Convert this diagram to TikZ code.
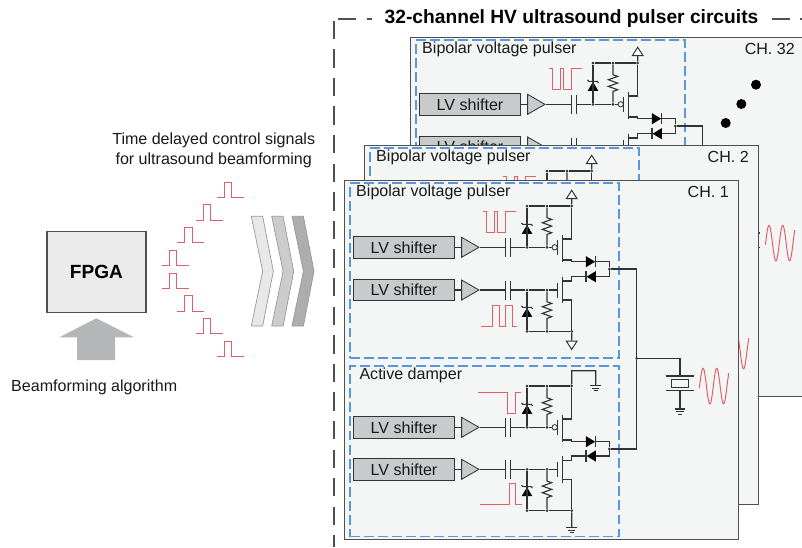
\documentclass[tikz,border=0pt]{standalone}
\usepackage{fontspec}
\setmainfont{Liberation Sans}
\usepackage{tikz}
\usetikzlibrary{
  positioning,
  calc,
  shapes.geometric,
  decorations.pathmorphing
}
\usepackage{xcolor}
\definecolor{wirec}{HTML}{333333}
\definecolor{framec}{HTML}{505050}
\definecolor{panel}{HTML}{F4F6F6}
\definecolor{blued}{HTML}{5A96DC}
\definecolor{redw}{HTML}{E0606A}
\definecolor{boxg}{HTML}{C9CACC}
\definecolor{arrowg}{HTML}{B5B6B8}

% high side stage, origin at the left end of the gate line
\newcommand{\topstage}[2]{
  \begin{scope}[shift={#2}]
    \node[shifter] (#1lv) at (50.7,0) {LV shifter};
    \node[buffer] (#1buf) at (126.7,0) {};
    \coordinate (#1capa) at (152.4,0);
    \coordinate (#1capb) at (157,0);
    \node[jdot] (#1gz) at (173.7,0) {};
    \node[jdot] (#1gr) at (193.7,0) {};
    \node[bubble] (#1bub) at (201.4,0) {};
    \node[jdot] (#1railz) at (173.7,-41.3) {};
    \node[jdot] (#1railr) at (193.7,-41.3) {};
    \node[jdot] (#1rail) at (218.4,-41.3) {};
    \coordinate (#1src) at (209,-8.3);
    \coordinate (#1drn) at (209,12.7);
    \node[zener] (#1zd) at (173.7,-23) {};
    \node[diode] (#1dio) at (242.4,14.4) {};
    \coordinate (#1join) at (256,14.4);
    \node[jdot] (#1out) at (256,21.7) {};
    \draw[wire] (#1lv) -- (#1buf);
    \draw[wire] (#1buf.apex) -- (#1capa);
    \draw[wire] (#1capa) ++(0,-9.5) -- ++(0,19);
    \draw[wire] (#1capb) ++(0,-9.5) -- ++(0,19);
    \draw[wire] (#1capb) -- (#1gz) -- (#1gr) -- (#1bub);
    \draw[wire] (#1railz) -- (#1railr) -- (#1rail);
    \draw[wire] (#1railz) -- (#1gz);
    \draw[resistor] (#1railr) -- (#1gr);
    \draw[wire] (#1zd.apex) ++(-5.5,-1.5) -- ++(1.2,1.5) -- ++(8.6,0) -- ++(1.2,1.5);
    \draw[wire] (#1bub.east) ++(0,-7.5) -- ++(0,15);
    \draw[wire] (209,-12.3) -- (209,15);
    \draw[wire] (#1rail) -- (218.4,-8.3) -- (#1src);
    \draw[wire] (#1drn) -- (218.4,12.7) -- (218.4,14.4) -- (#1dio.west);
    \draw[wire] (#1dio.apex) ++(0,-5.7) -- ++(0,11.4);
    \draw[wire] (#1dio.apex) -- (#1join) -- (#1out);
  \end{scope}
}
% low side stage, same origin
\newcommand{\lowstage}[2]{
  \begin{scope}[shift={#2}]
    \node[shifter] (#1lv) at (50.7,0) {LV shifter};
    \node[buffer] (#1buf) at (126.7,0) {};
    \coordinate (#1capa) at (152.4,0);
    \coordinate (#1capb) at (157,0);
    \node[jdot] (#1gz) at (173.7,0) {};
    \node[jdot] (#1gr) at (193.7,0) {};
    \coordinate (#1gbar) at (204.4,0);
    \node[jdot] (#1railz) at (173.7,41.3) {};
    \node[jdot] (#1railr) at (193.7,41.3) {};
    \node[jdot] (#1rail) at (218.4,41.3) {};
    \coordinate (#1src) at (209,10);
    \coordinate (#1drn) at (209,-9);
    \node[zener] (#1zd) at (173.7,17.3) {};
    \node[diode, shape border rotate=180] (#1dio) at (232.7,-13.3) {};
    \coordinate (#1join) at (256,-13.3);
    \draw[wire] (#1lv) -- (#1buf);
    \draw[wire] (#1buf.apex) -- (#1capa);
    \draw[wire] (#1capa) ++(0,-9.5) -- ++(0,19);
    \draw[wire] (#1capb) ++(0,-9.5) -- ++(0,19);
    \draw[wire] (#1capb) -- (#1gz) -- (#1gr) -- (#1gbar);
    \draw[wire] (#1railz) -- (#1railr) -- (#1rail);
    \draw[wire] (#1gz) -- (#1railz);
    \draw[resistor] (#1gr) -- (#1railr);
    \draw[wire] (#1zd.apex) ++(-5.5,-1.5) -- ++(1.2,1.5) -- ++(8.6,0) -- ++(1.2,1.5);
    \draw[wire] (#1gbar) ++(0,-7.5) -- ++(0,15);
    \draw[wire] (209,-13.3) -- (209,13.3);
    \draw[wire] (#1src) -- (218.4,10) -- (#1rail);
    \draw[wire] (#1drn) -- (218.4,-9) -- (218.4,-13.3) -- (#1dio.apex);
    \draw[wire] (#1dio.apex) ++(0,-5.7) -- ++(0,11.4);
    \draw[wire] (#1dio.east) -- (#1join) -- (256,-21);
  \end{scope}
}

\begin{document}
\begin{tikzpicture}[
  x=0.03cm, y=-0.03cm,
  txt/.style={font=\fontsize{13.7}{16}\selectfont, text=black!90, inner sep=0pt},
  wire/.style={draw=wirec, line width=0.95pt},
  chframe/.style={draw=framec, line width=1.2pt, fill=panel, minimum width=11.82cm,
                  minimum height=10.77cm, anchor=north west, inner sep=0pt},
  dashbox/.style={draw=blued, line width=1.1pt, dash pattern=on 8.5pt off 3.5pt,
                  minimum width=8.07cm, anchor=north west, inner sep=0pt},
  shifter/.style={draw=wirec, line width=1pt, fill=boxg, minimum width=3.04cm,
                  minimum height=0.65cm, inner sep=0pt, txt},
  buffer/.style={draw=wirec, line width=0.7pt, fill=boxg, shape=isosceles triangle,
                 isosceles triangle stretches, minimum width=0.6cm, minimum height=0.52cm,
                 inner sep=0pt, anchor=apex},
  diode/.style={fill=black, shape=isosceles triangle, isosceles triangle stretches,
                minimum width=0.34cm, minimum height=0.28cm, inner sep=0pt, anchor=apex},
  zener/.style={diode, shape border rotate=90, minimum width=0.32cm, minimum height=0.27cm},
  supply/.style={draw=wirec, line width=0.85pt, fill=white, shape=isosceles triangle,
                 isosceles triangle stretches, minimum width=0.32cm, minimum height=0.25cm,
                 inner sep=0pt, anchor=apex},
  jdot/.style={circle, fill=wirec, minimum size=0.09cm, inner sep=0pt},
  bubble/.style={circle, draw=wirec, line width=0.7pt, fill=panel, minimum size=0.16cm, inner sep=0pt},
  resistor/.style={wire, decorate, decoration={zigzag, segment length=0.2cm, amplitude=0.14cm,
                   pre length=0.3cm, post length=0.27cm}},
  wave/.style={draw=redw, line width=0.85pt},
  chevron/.style={draw=black!40, line width=0.6pt},
  maindash/.style={draw=framec, line width=1.6pt, dash pattern=on 15.7pt off 8.7pt},
  pics/earth/.style={code={
    \draw[wire] (-5.3,0) -- (5.3,0);
    \draw[wire] (-3.6,2.6) -- (3.6,2.6);
    \draw[wire] (-1.8,5.2) -- (1.8,5.2);
  }},
  % one whole channel, origin at the corner of its panel
  pics/channel/.style={code={
    \node[chframe] (frame) at (0,0) {};
    \node[dashbox, minimum height=5.25cm] (bip) at (5.3,2.3) {};
    \node[dashbox, minimum height=5.12cm] (dmp) at (5.3,185.3) {};
    \node[txt, anchor=west] (biplab) at (12,12.3) {Bipolar voltage pulser};
    \node[txt, anchor=west] (dmplab) at (15.3,195) {Active damper};
    \node[txt, anchor=east] (chlab) at (385,12.3) {#1};
    % pulser
    \topstage{up}{(9.3,67.3)}
    \lowstage{lo}{(9.3,110)}
    \node[supply, shape border rotate=90] (vdd) at (227.7,9) {};
    \node[supply, shape border rotate=270] (vss) at (227.7,170.7) {};
    \draw[wire] (uprail) -- (vdd.south);
    \draw[wire] (lorail) -- (vss.north);
    \draw[wave] (138.7,31) -- (142.7,31) -- (142.7,52.3) -- (150,52.3) -- (150,31) -- (153.7,31)
      -- (153.7,52.3) -- (161,52.3) -- (161,31) -- (172,31);
    \draw[wave] (137.3,146.7) -- (148.7,146.7) -- (148.7,125) -- (155.3,125) -- (155.3,146.7)
      -- (161.7,146.7) -- (161.7,125) -- (168.3,125) -- (168.3,146.7) -- (172.7,146.7);
    % damper
    \topstage{dt}{(9.3,247.3)}
    \lowstage{dl}{(9.3,289.3)}
    \coordinate (bend) at (227.7,190.7);
    \coordinate (gnda) at (251.7,205.5);
    \coordinate (gndb) at (227.7,347.7);
    \pic at (gnda) {earth};
    \pic at (gndb) {earth};
    \draw[wire] (dtrail) -- (bend) -| (gnda);
    \draw[wire] (dlrail) -- (gndb);
    \draw[wave] (134.3,212.3) -- (163.7,212.3) -- (163.7,233.3) -- (171,233.3) -- (171,212.3) -- (176.7,212.3);
    \draw[wave] (136,324.3) -- (165,324.3) -- (165,303.3) -- (171.7,303.3) -- (171.7,324.3) -- (178.3,324.3);
    % output and transducer
    \node[jdot] (outdot) at (292.7,178.3) {};
    \coordinate (plta) at (336,196);
    \coordinate (pltb) at (336,210.3);
    \coordinate (gndc) at (336,229);
    \node[draw=wirec, line width=0.85pt, fill=panel, minimum width=0.53cm, minimum height=0.24cm,
          inner sep=0pt] (xtal) at (336,203.2) {};
    \pic at (gndc) {earth};
    \draw[wire] (upout) -| (outdot) |- (dtout);
    \draw[wire] (outdot) -| (plta);
    \draw[wire] (plta) ++(-13.8,0) -- ++(27.6,0);
    \draw[wire] (pltb) ++(-13.8,0) -- ++(27.6,0);
    \draw[wire] (pltb) -- (gndc);
    \draw[wave, domain=355.4:384.8, samples=70, smooth, variable=\t]
      plot (\t, {206.1-17.8*sin((\t-355.6)*360/13.7)});
  }}
]
  \clip (0,0) rectangle (802,547);

  % Dashed outline with title
  \coordinate (fa) at (334.3,20.7);
  \coordinate (fb) at (334.3,547);
  \coordinate (fc) at (338,19);
  \coordinate (fd) at (372,19);
  \coordinate (fe) at (771.7,19);
  \coordinate (ff) at (802,19);
  \draw[maindash] (fa) -- (fb);
  \draw[maindash] (fc) -- (fd);
  \draw[maindash] (fe) -- (ff);
  \node[font=\fontsize{16.4}{18}\bfseries\selectfont, inner sep=0pt] (title) at (571.5,19)
    {32-channel HV ultrasound pulser circuits};

  % Channels, back to front
  \pic (chb) at (410,37) {channel={CH. 32}};
  \node[circle, fill=black, minimum size=0.3cm, inner sep=0pt] (more1) at (756,84.7) {};
  \node[circle, fill=black, minimum size=0.3cm, inner sep=0pt] (more2) at (741.3,104) {};
  \node[circle, fill=black, minimum size=0.3cm, inner sep=0pt] (more3) at (725.7,123) {};
  \pic (chm) at (364,145) {channel={CH. 2}};
  \pic (cha) at (344,180) {channel={CH. 1}};

  % FPGA side
  \node[draw=framec, line width=1.1pt, fill=black!8, minimum width=2.97cm, minimum height=2.45cm,
        inner sep=0pt, font=\fontsize{16.3}{18}\bfseries\selectfont] (fpga) at (96.5,272) {FPGA};
  \fill[arrowg] (96.3,318.3) -- (134,337.3) -- (115,337.3) -- (115,360) -- (77,360)
    -- (77,337.3) -- (59.3,337.3) -- cycle;
  \node[txt] (algo) at (94.2,387.7) {Beamforming algorithm};
  \node[txt, align=center] (delay1) at (213.7,140.7) {Time delayed control signals};
  \node[txt, align=center] (delay2) at (213.7,160) {for ultrasound beamforming};

  % Delayed pulses
  \foreach \x/\y in {216.7/197.3, 195.7/220, 177/242.3, 161.7/265.7,
                     161.7/288.3, 177/311, 195.7/333.7, 216.7/356.3}
    \draw[wave] (\x,\y) -- ++(7.7,0) -- ++(0,-15.3) -- ++(7.3,0) -- ++(0,15.3) -- ++(12,0);

  % Chevrons
  \foreach \x/\c in {251.3/black!9, 271.7/black!20, 292/black!32}
    \draw[chevron, fill=\c] (\x,216.3) -- ++(11.4,0) -- ++(10.6,55) -- ++(-10.6,54.7)
      -- ++(-11.4,0) -- ++(11.4,-54.7) -- cycle;
\end{tikzpicture}
\end{document}
